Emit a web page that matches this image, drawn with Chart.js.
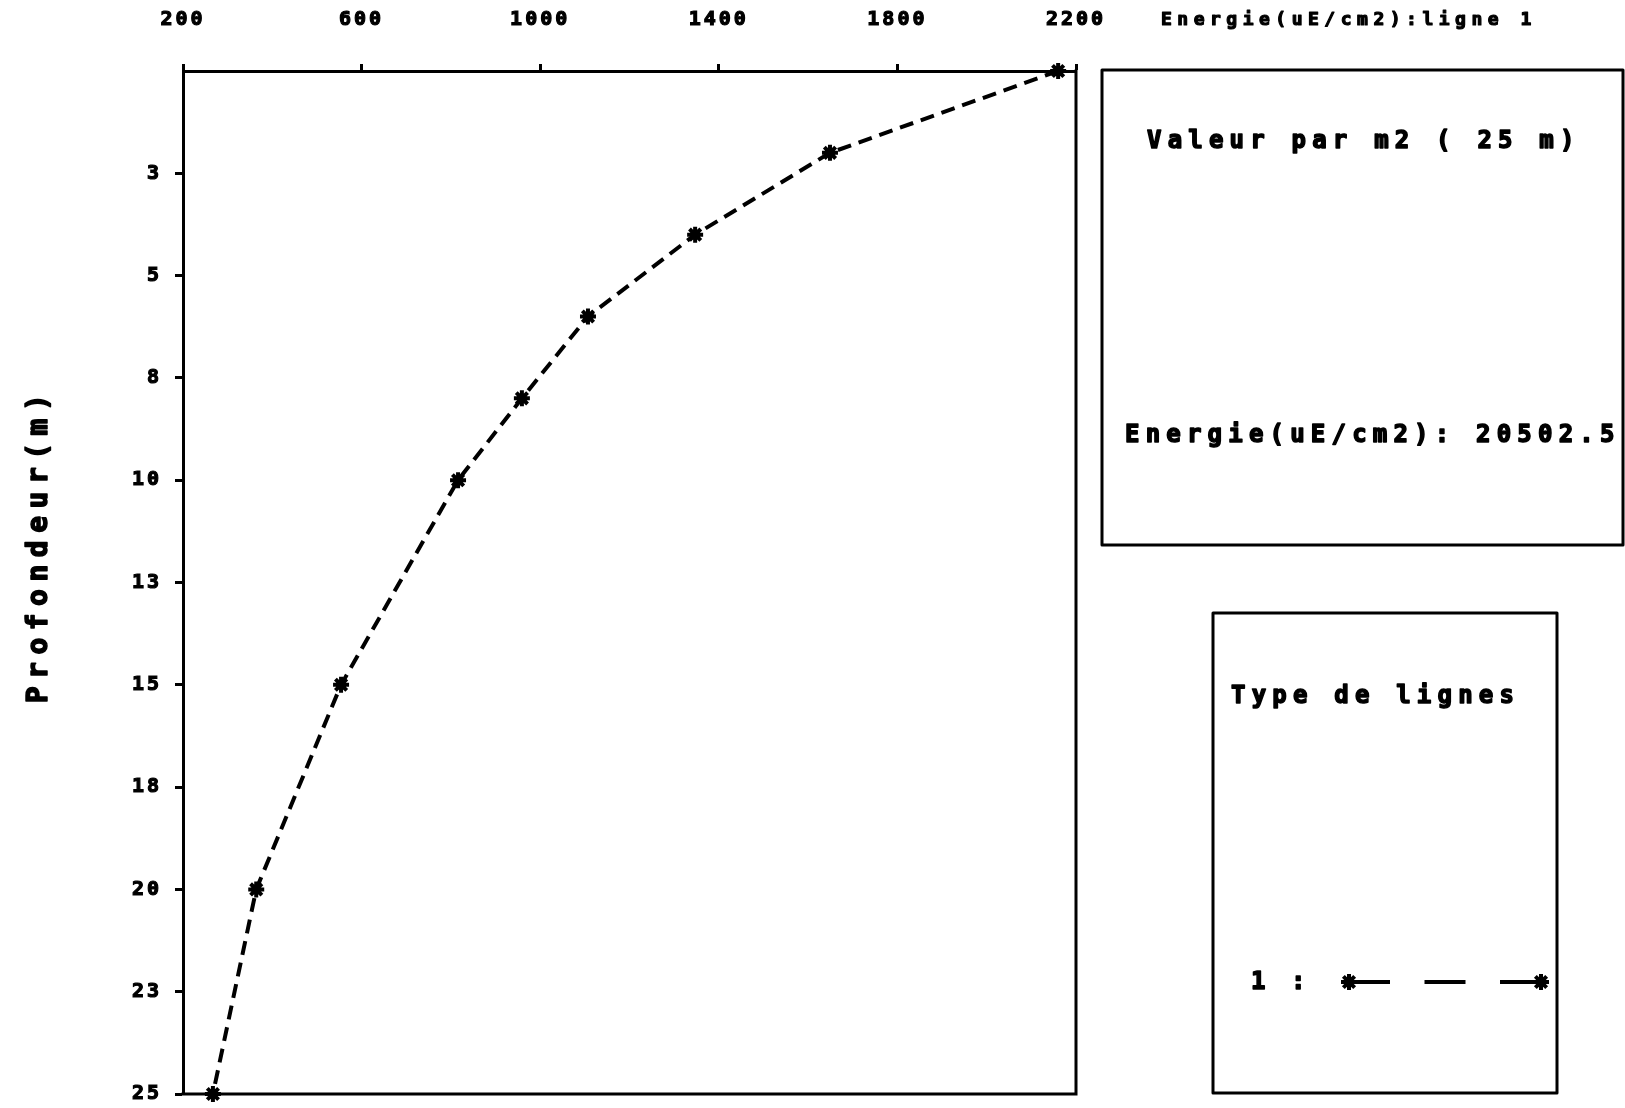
<!DOCTYPE html>
<html><head><meta charset="utf-8">
<script src="https://cdn.jsdelivr.net/npm/chart.js@4"></script>
<style>html,body{margin:0;padding:0;background:#fff;overflow:hidden}</style>
</head><body>
<canvas id="c" width="1625" height="1108"></canvas>
<script>
// ---- data ----
const depths = [0, 2, 4, 6, 8, 10, 15, 20, 25];
const energy = [2160, 1649, 1347, 1107, 959, 816, 554, 364, 267];
const xTickValues = [200, 600, 1000, 1400, 1800, 2200];
const xTickLabels = ['200', '600', '1000', '1400', '1800', '2200'];
const yTickValues = [2.5, 5, 7.5, 10, 12.5, 15, 17.5, 20, 22.5, 25];
const yTickLabels = ['3', '5', '8', '10', '13', '15', '18', '20', '23', '25'];
const xAxisLabel = 'Energie(uE/cm2):ligne 1';
const yAxisLabel = 'Profondeur(m)';
const boxTitle = 'Valeur par m2 ( 25 m)';
const boxValueLabel = 'Energie(uE/cm2): 20502.5';
const legendTitle = 'Type de lignes';
const legendEntry = '1';

const MONO = '"DejaVu Sans Mono", "Liberation Mono", monospace';
const points = depths.map((d, i) => ({x: energy[i], y: d}));

function boldText(ctx, s, x, y, w) {
  ctx.lineWidth = w;
  ctx.lineJoin = 'round';
  ctx.strokeText(s, x, y);
  ctx.fillText(s, x, y);
}

const textPlugin = {
  id: 'textPlugin',
  beforeUpdate(chart) { chart.ctx.letterSpacing = '3px'; },
  beforeDraw(chart) { chart.ctx.letterSpacing = '3px'; },
  beforeDatasetsDraw(chart) {
    const ctx = chart.ctx, a = chart.chartArea;
    ctx.save();
    ctx.strokeStyle = '#000';
    ctx.lineWidth = 3;
    ctx.lineCap = 'square';
    ctx.beginPath();
    ctx.moveTo(a.right, a.top);
    ctx.lineTo(a.right, a.bottom);
    ctx.lineTo(a.left, a.bottom);
    ctx.stroke();
    ctx.restore();
  },
  afterDraw(chart) {
    const ctx = chart.ctx;
    ctx.save();
    ctx.fillStyle = '#000';
    ctx.strokeStyle = '#000';
    // top-right axis label
    ctx.letterSpacing = '5.5px';
    ctx.font = 'bold 18px ' + MONO;
    ctx.textAlign = 'left';
    ctx.textBaseline = 'middle';
    boldText(ctx, xAxisLabel, 1161, 20, 1.2);
    // y axis title
    ctx.save();
    ctx.translate(40, 549);
    ctx.rotate(-Math.PI / 2);
    ctx.letterSpacing = '7.5px';
    ctx.font = 'bold 28px ' + MONO;
    ctx.textAlign = 'center';
    boldText(ctx, yAxisLabel, 4, 0, 1.5);
    ctx.restore();
    // boxes
    ctx.lineWidth = 3;
    ctx.strokeRect(1102, 70, 521, 475);
    ctx.strokeRect(1213, 613, 344, 480);
    ctx.letterSpacing = '6.2px';
    ctx.font = 'bold 24px ' + MONO;
    ctx.textAlign = 'left';
    boldText(ctx, boxTitle, 1147, 142, 1.5);
    boldText(ctx, boxValueLabel, 1125, 436, 1.5);
    boldText(ctx, legendTitle, 1231, 697, 1.5);
    boldText(ctx, legendEntry, 1251, 983, 1.5);
    boldText(ctx, ':', 1291, 983, 1.5);
    // legend sample
    ctx.save();
    ctx.lineWidth = 4;
    ctx.setLineDash([41, 34.5]);
    ctx.beginPath();
    ctx.moveTo(1349, 982);
    ctx.lineTo(1541, 982);
    ctx.stroke();
    ctx.restore();
    const ds = chart.data.datasets[0];
    const opt = {pointStyle: ds.pointStyle, radius: ds.pointRadius, rotation: 0, borderWidth: ds.pointBorderWidth};
    ctx.setLineDash([]);
    ctx.lineWidth = ds.pointBorderWidth;
    Chart.helpers.drawPoint(ctx, opt, 1349, 982);
    Chart.helpers.drawPoint(ctx, opt, 1541, 982);
    ctx.restore();
  }
};

new Chart(document.getElementById('c'), {
  type: 'scatter',
  data: {
    datasets: [{
      data: points,
      showLine: true,
      borderColor: '#000',
      backgroundColor: '#000',
      borderWidth: 4,
      borderDash: [14, 8],
      pointStyle: 'star',
      pointRadius: 8,
      pointBorderWidth: 4,
      pointBorderColor: '#000',
      clip: false
    }]
  },
  options: {
    responsive: false,
    animation: false,
    devicePixelRatio: 1,
    layout: {padding: {left: 0, top: 0, right: 549, bottom: 14}},
    plugins: {legend: {display: false}, tooltip: {enabled: false}},
    scales: {
      x: {
        type: 'linear',
        position: 'top',
        min: 200, max: 2200,
        afterBuildTicks: s => { s.ticks = xTickValues.map(v => ({value: v})); },
        afterFit: s => { s.height = 71; s.paddingLeft = 0; s.paddingRight = 0; },
        border: {display: true, color: '#000', width: 3},
        grid: {drawOnChartArea: false, drawTicks: true, tickLength: 7, tickWidth: 3, color: '#000'},
        ticks: {color: '#000', padding: 32, maxRotation: 0, autoSkip: false,
                textStrokeColor: '#000', textStrokeWidth: 1.2,
                callback: (v) => { const i = xTickValues.indexOf(v); return i >= 0 ? xTickLabels[i] : ''; },
                font: {family: MONO, size: 20, weight: 'bold'}}
      },
      y: {
        type: 'linear',
        reverse: true,
        min: 0, max: 25,
        afterBuildTicks: s => { s.ticks = yTickValues.map(v => ({value: v})); },
        afterFit: s => { s.width = 183; s.paddingTop = 0; s.paddingBottom = 0; },
        border: {display: true, color: '#000', width: 3},
        grid: {drawOnChartArea: false, drawTicks: true, tickLength: 8, tickWidth: 3, color: '#000'},
        ticks: {color: '#000', padding: 13, autoSkip: false,
                textStrokeColor: '#000', textStrokeWidth: 1.2,
                callback: (v) => { const i = yTickValues.indexOf(v); return i >= 0 ? yTickLabels[i] : ''; },
                font: {family: MONO, size: 20, weight: 'bold'}}
      }
    }
  },
  plugins: [textPlugin]
});
</script>
</body></html>
